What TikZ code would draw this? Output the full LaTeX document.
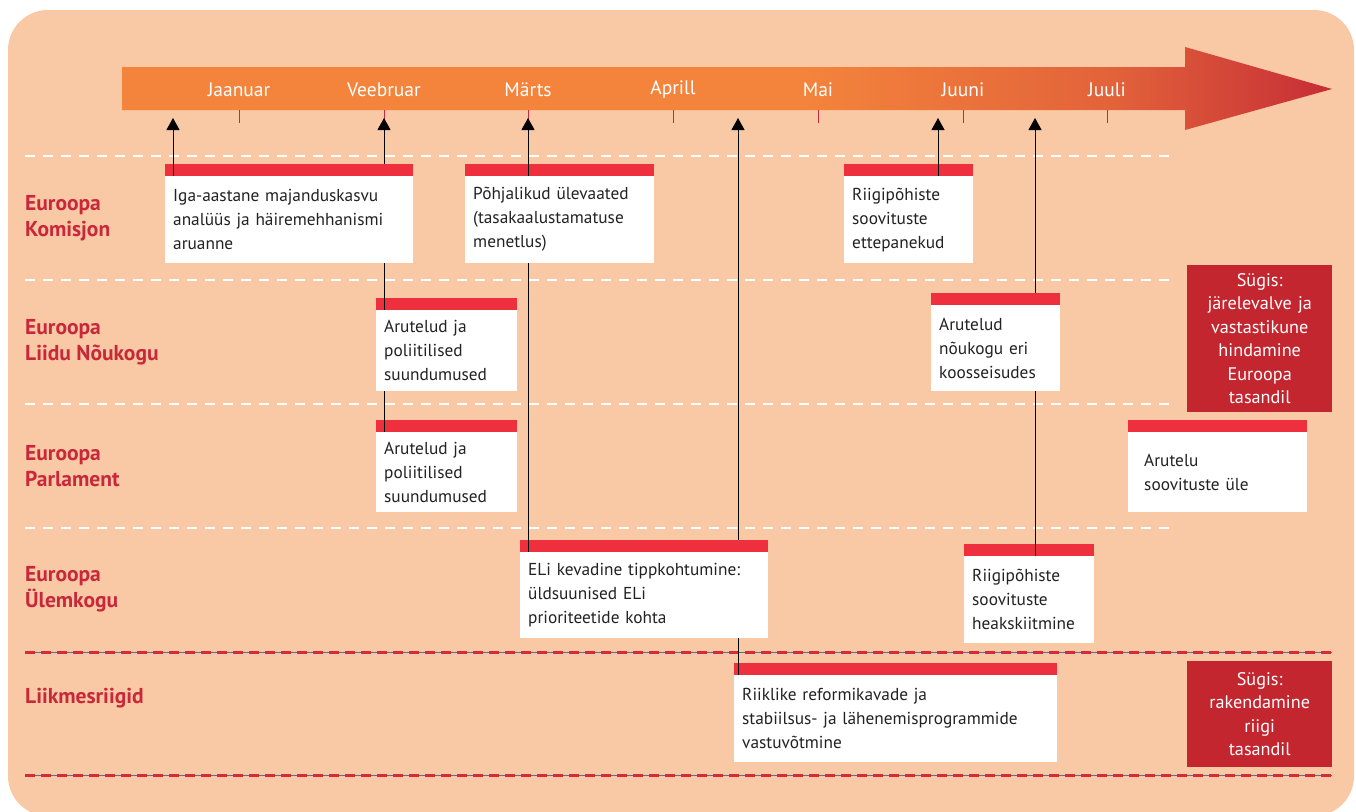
\documentclass[tikz,border=0pt]{standalone}
\usepackage{fontspec}
\setmainfont{PT Sans}
\usepackage{xcolor}
\usepackage{tikz}
\usetikzlibrary{arrows.meta}
\definecolor{taust}{HTML}{F9C8A5}
\definecolor{punane}{HTML}{C8283A}
\definecolor{riba}{HTML}{EE303E}
\definecolor{tume}{HTML}{C4262F}
\definecolor{tekst}{HTML}{222222}
\definecolor{sinine}{HTML}{5A6E9E}
\definecolor{nool1}{HTML}{F4843C}
\definecolor{nool2}{HTML}{E2623A}
\definecolor{nool3}{HTML}{C62D36}
\pgfdeclarehorizontalshading{noolvarv}{100bp}{color(0bp)=(nool1); color(53bp)=(nool1); color(66bp)=(nool2); color(75bp)=(nool3); color(100bp)=(nool3)}

\begin{document}
\begin{tikzpicture}[x=1pt,y=-1pt,
  kast/.style={fill=white,anchor=north west,inner xsep=8pt,inner ysep=0pt,align=left,text=tekst,font=\fontsize{17.3}{24}\selectfont},
  syys/.style={fill=tume,anchor=north west,inner sep=0pt,align=center,text=white,text width=145pt,font=\fontsize{18.2}{23.5}\selectfont},
  rida/.style={anchor=west,inner sep=0pt,align=left,text=punane,font=\bfseries\fontsize{21.5}{26}\selectfont},
  kuu/.style={text=white,font=\fontsize{19.5}{20}\selectfont},
  nool/.style={-{Triangle[width=13pt,length=12pt]},line width=1pt}]
\useasboundingbox (0,0) rectangle (1356,811);
\fill[taust,rounded corners=40pt] (8,10) rectangle (1354,816);
% ajatelg
\shade[shading=noolvarv] (122,67) -- (1185,67) -- (1185,47) -- (1332,89) -- (1185,130) -- (1185,110) -- (122,110) -- cycle;
\foreach \nimi/\x in {Jaanuar/239,Veebruar/384,Märts/528,Aprill/673,Mai/818,Juuni/963,Juuli/1107} {
  \node[kuu] (kuu\x) at (\x,90) {\nimi};
  \draw[punane,line width=1pt] (\x,110) -- (\x,123);
}
\coordinate (tJan) at (173,118);
\coordinate (tVeeb) at (384,118);
\coordinate (tMar) at (528,118);
\coordinate (tApr) at (738,118);
\coordinate (tJuuni) at (938,118);
\coordinate (tJuuli) at (1035,118);
% read
\foreach \y in {156,280,404,528}
  \draw[white,line width=2.5pt,dash pattern=on 10pt off 8pt] (25,\y) -- (1170,\y);
\foreach \y in {652,775} {
  \draw[sinine,line width=1pt] (25,\y) -- (1332,\y);
  \draw[riba!90!black,line width=3pt,dash pattern=on 10pt off 6pt] (25,\y) -- (1332,\y);
}
\node[rida] (rKom) at (25,218) {Euroopa\\Komisjon};
\node[rida] (rNou) at (25,342) {Euroopa\\Liidu Nõukogu};
\node[rida] (rParl) at (25,466) {Euroopa\\Parlament};
\node[rida] (rUlem) at (25,589) {Euroopa\\Ülemkogu};
\node[rida] (rLiik) at (25,698) {Liikmesriigid};
% kastid
\node[kast,text width=232pt,minimum height=87pt] (komA) at (165,176) {Iga-aastane majanduskasvu\\analüüs ja häiremehhanismi\\aruanne};
\node[kast,text width=173pt,minimum height=87pt] (komB) at (465,176) {Põhjalikud ülevaated\\(tasakaalustamatuse\\menetlus)};
\node[kast,text width=113pt,minimum height=87pt] (komC) at (844,176) {Riigipõhiste\\soovituste\\ettepanekud};
\node[kast,text width=125pt,minimum height=81pt] (noukA) at (376,310) {Arutelud ja\\poliitilised\\suundumused};
\node[kast,text width=113pt,minimum height=86pt] (noukB) at (931,305) {Arutelud\\nõukogu eri\\koosseisudes};
\node[kast,text width=125pt,minimum height=80pt] (parlA) at (376,432) {Arutelud ja\\poliitilised\\suundumused};
\node[kast,inner xsep=16pt,text width=147pt,minimum height=80pt] (parlB) at (1128,432) {Arutelu\\soovituste üle};
\node[kast,text width=232pt,minimum height=86pt] (ulemA) at (520,552) {ELi kevadine tippkohtumine:\\üldsuunised ELi\\prioriteetide kohta};
\node[kast,text width=114pt,minimum height=87pt] (ulemB) at (964,556) {Riigipõhiste\\soovituste\\heakskiitmine};
\node[kast,text width=307pt,minimum height=87pt] (liik) at (734,675) {Riiklike reformikavade ja\\stabiilsus- ja lähenemisprogrammide\\vastuvõtmine};
\foreach \k in {komA,komB,komC,noukA,noukB,parlA,parlB,ulemA,ulemB,liik}
  \fill[riba] ([yshift=12pt]\k.north west) rectangle (\k.north east);
\node[syys,minimum height=147pt] (sygis1) at (1187,265) {Sügis:\\järelevalve ja\\vastastikune\\hindamine\\Euroopa\\tasandil};
\node[syys,minimum height=106pt] (sygis2) at (1187,661) {Sügis:\\rakendamine\\riigi\\tasandil};
% nooled
\draw[nool] (komA.north -| tJan) -- (tJan);
\draw[line width=1pt] (parlA.north -| tVeeb) -- (noukA.south -| tVeeb);
\draw[line width=1pt] (noukA.north -| tVeeb) -- (komA.south -| tVeeb);
\draw[nool] ([yshift=12pt]komA.north -| tVeeb) -- (tVeeb);
\draw[line width=1pt] (ulemA.north -| tMar) -- (komB.south -| tMar);
\draw[nool] (komB.north -| tMar) -- (tMar);
\draw[line width=1pt] (liik.north -| tApr) -- (ulemA.south -| tApr);
\draw[nool] ([yshift=12pt]ulemA.north -| tApr) -- (tApr);
\draw[nool] (komC.north -| tJuuni) -- (tJuuni);
\draw[line width=1pt] (ulemB.north -| tJuuli) -- (noukB.south -| tJuuli);
\draw[nool] ([yshift=12pt]noukB.north -| tJuuli) -- (tJuuli);
\end{tikzpicture}
\end{document}
